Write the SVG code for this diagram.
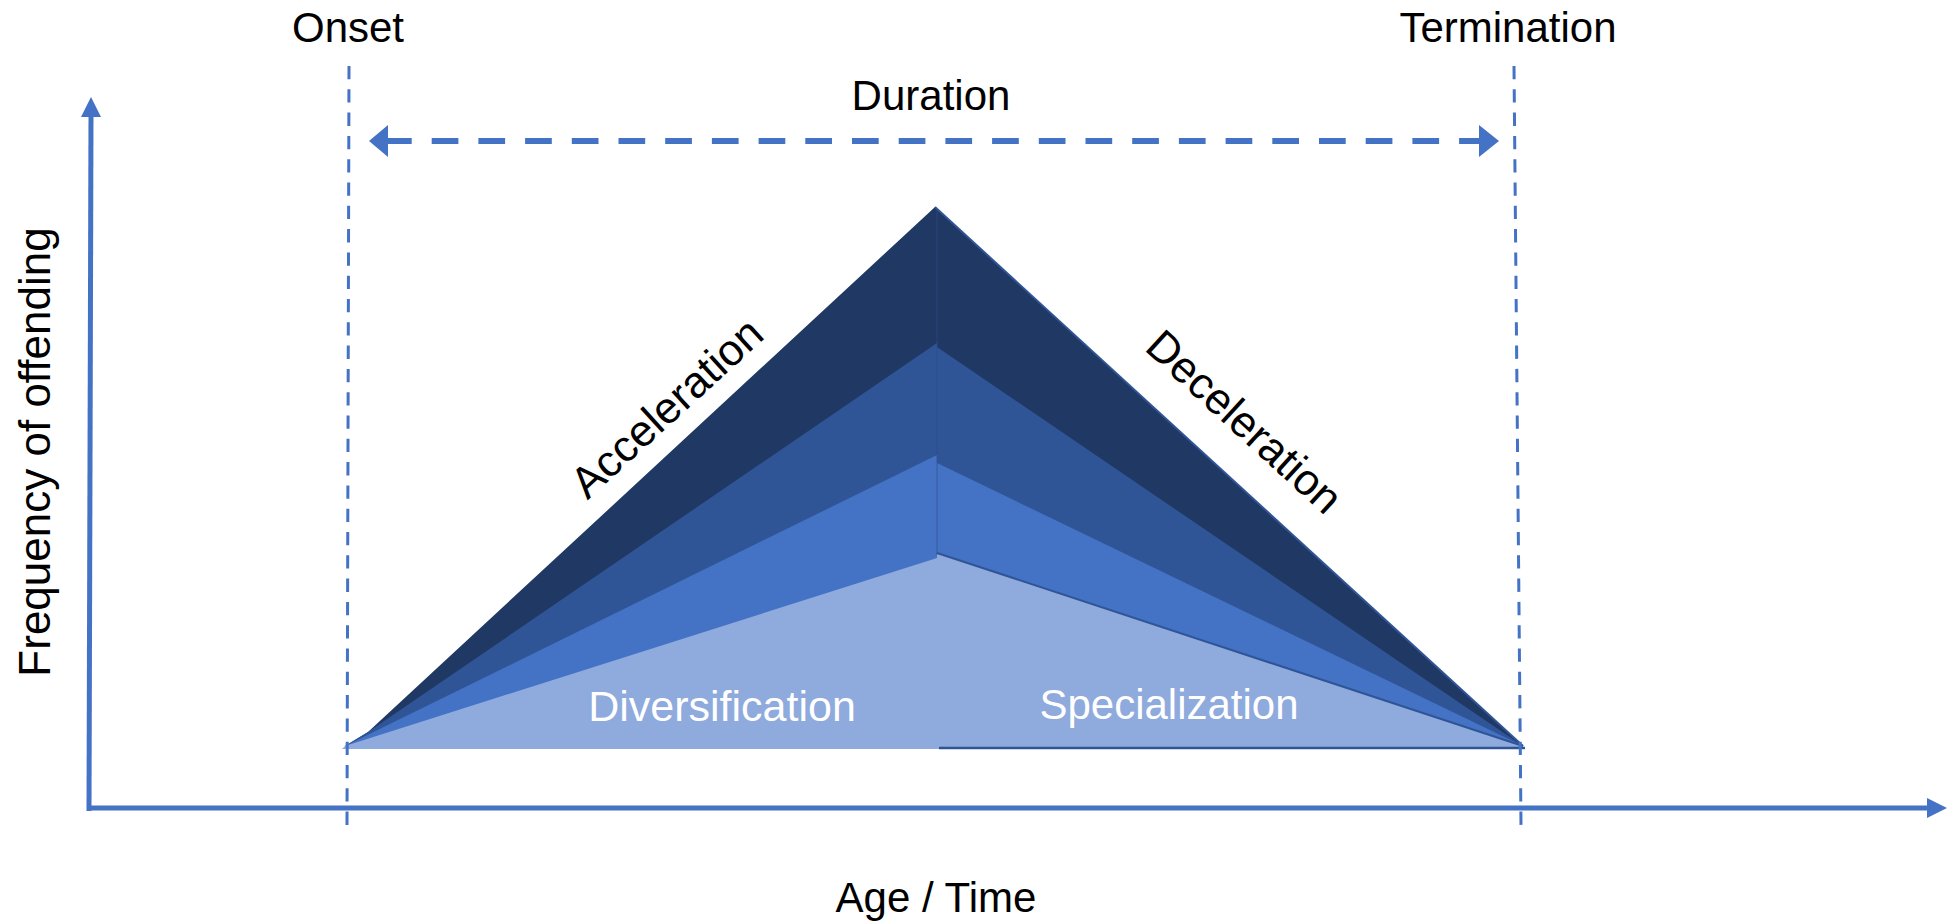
<svg xmlns="http://www.w3.org/2000/svg" width="1949" height="923" viewBox="0 0 1949 923">
<style>
  .lbl { font-family: "Liberation Sans", Arial, sans-serif; font-size: 42px; fill: #000; text-anchor: middle; }
  .slant { font-size: 44px; }
  .wlbl { font-family: "Liberation Sans", Arial, sans-serif; font-size: 42px; fill: #ffffff; text-anchor: middle; }
  .axis { stroke: #4472C4; stroke-width: 5; fill: none; }
  .head { fill: #4472C4; stroke: none; }
  .vdash { stroke: #4472C4; stroke-width: 3; stroke-dasharray: 13.3 10; fill: none; }
  .hdash { stroke: #4472C4; stroke-width: 6; stroke-dasharray: 26.7 20; fill: none; }
</style>
<rect x="0" y="0" width="1949" height="923" fill="#ffffff"/>

<g id="pyramid">
  <polygon id="layer-navy" points="345,746 368,732 935,207 1523,746" fill="#203864"/>
  <polygon id="layer-medium" points="345,746 368,732 937,343 937,347 1523,746" fill="#2F5597"/>
  <polygon id="layer-blue" points="345,746 937,455 937,463 1523,746" fill="#4472C4"/>
  <polygon id="layer-light" points="342,749 345,746 937,558 937,553 1523,746 1523,749" fill="#8FAADC"/>
  <line x1="935" y1="207" x2="1523" y2="746" stroke="#2F5597" stroke-width="2"/>
  <line x1="937" y1="209" x2="937" y2="555" stroke="#2B4C8A" stroke-width="1" opacity="0.6"/>
  <line x1="937" y1="553" x2="1523" y2="746" stroke="#2F5597" stroke-width="2"/>
  <line x1="939" y1="748" x2="1525" y2="748" stroke="#2F5597" stroke-width="2.5"/>
</g>

<g id="connectors">
  <g id="y-axis">
    <line class="axis" x1="91" y1="114" x2="89" y2="811"/>
    <polygon class="head" points="91,97 81,117 101,117"/>
  </g>
  <g id="x-axis">
    <line class="axis" x1="87" y1="808" x2="1929" y2="808"/>
    <polygon class="head" points="1947,808 1927,798 1927,818"/>
  </g>
  <g id="onset-line">
    <line class="vdash" x1="349" y1="66" x2="347" y2="826"/>
  </g>
  <g id="termination-line">
    <line class="vdash" x1="1514" y1="66" x2="1521" y2="826"/>
  </g>
  <g id="duration-arrow">
    <line class="hdash" x1="385" y1="141" x2="1482" y2="141"/>
    <polygon class="head" points="369,141 388,125 388,157"/>
    <polygon class="head" points="1499,141 1479,125 1479,157"/>
  </g>
</g>

<g id="onset"><text class="lbl" x="348" y="42">Onset</text></g>
<g id="termination"><text class="lbl" x="1508" y="42">Termination</text></g>
<g id="duration"><text class="lbl" x="931" y="110">Duration</text></g>
<g id="age-time"><text class="lbl" x="936" y="912">Age / Time</text></g>
<g id="frequency"><text class="lbl" style="font-size:44px" transform="translate(50,452) rotate(-90)" x="0" y="0">Frequency of offending</text></g>
<g id="acceleration"><text class="lbl slant" transform="translate(666,407) rotate(-42.4)" x="0" y="16">Acceleration</text></g>
<g id="deceleration"><text class="lbl slant" transform="translate(1245,421) rotate(42.5)" x="0" y="16">Deceleration</text></g>
<g id="diversification"><text class="wlbl" style="font-size:43px" x="722" y="721">Diversification</text></g>
<g id="specialization"><text class="wlbl" x="1169" y="719">Specialization</text></g>
</svg>
